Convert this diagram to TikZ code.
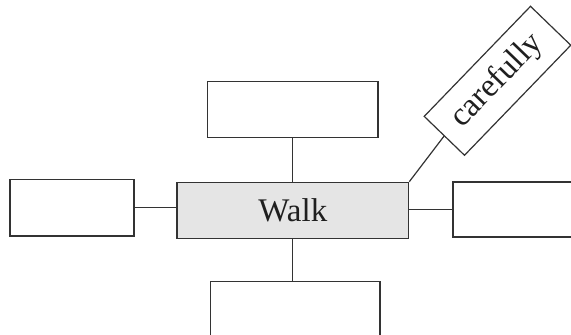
\documentclass[tikz,border=0pt]{standalone}
\usepackage{fontspec}
\setmainfont{Liberation Serif}
\begin{document}
\begin{tikzpicture}[x=1pt,y=1pt,
  boxstyle/.style={draw=black!80, line width=1.2pt, inner sep=0pt, rectangle},
  link/.style={draw=black!80, line width=1.2pt},
  bigtext/.style={font=\fontsize{33}{40}\selectfont, text=black!88}]
\useasboundingbox (0,0) rectangle (571,335);
\clip (0,0) rectangle (571,335);
\node[boxstyle, fill=black!10, minimum width=231.7pt, minimum height=56.4pt, bigtext] (center) at (292.85,124.5) {Walk};
\node[boxstyle, minimum width=124pt, minimum height=56.5pt] (left) at (72,127.25) {};
\node[boxstyle, minimum width=124pt, minimum height=55pt] (right) at (515,125.5) {};
\node[boxstyle, minimum width=170.3pt, minimum height=56pt] (top) at (292.85,225.3) {};
\node[boxstyle, minimum width=169.3pt, minimum height=56pt] (bottom) at (295.35,25.3) {};
\node[boxstyle, fill=white, minimum width=153pt, minimum height=56pt, rotate=46, bigtext] (care) at (497.5,254.2) {carefully};
\draw[link] (left.east) -- (left.east -| center.west);
\draw[link] (center.east |- right.west) -- (right.west);
\draw[link] (top.south) -- (top.south |- center.north);
\draw[link] (center.south) -- (center.south |- bottom.north);
\draw[link] (center.north east) -- (care.west);
\end{tikzpicture}
\end{document}
